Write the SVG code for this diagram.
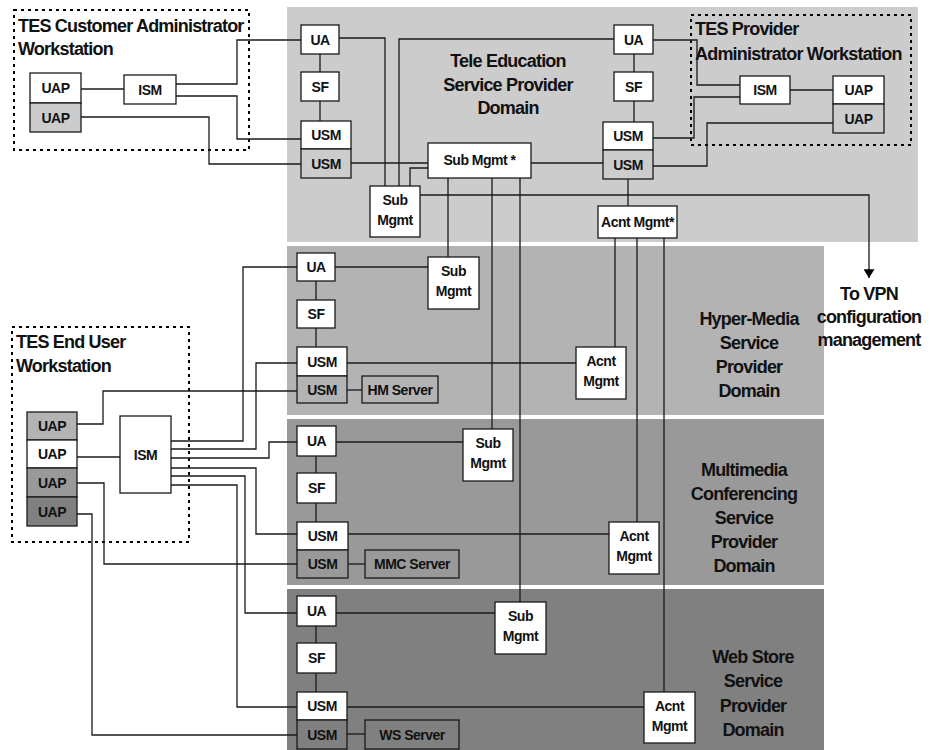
<svg xmlns="http://www.w3.org/2000/svg" width="930" height="750" viewBox="0 0 930 750">
<style>
.bg{fill:#ffffff}
.d1{fill:#cccccc}.d2{fill:#b3b3b3}.d3{fill:#999999}.d4{fill:#808080}
.box{stroke:#1a1a1a;stroke-width:1.3}
.w{fill:#ffffff}
.ws{fill:none;stroke:#000000;stroke-width:2;stroke-dasharray:3 4}
.c path{fill:none;stroke:#1a1a1a;stroke-width:1.3}
text{font-family:"Liberation Sans",Arial,sans-serif;font-weight:bold;fill:#111111}
.l{font-size:14px;letter-spacing:-0.5px;text-anchor:middle}
.t{font-size:18px;letter-spacing:-0.8px}
.m{text-anchor:middle}
</style>
<defs>
<marker id="arr" markerUnits="userSpaceOnUse" markerWidth="9" markerHeight="11" refX="8" refY="5" orient="auto" viewBox="0 0 8 10">
<path d="M0,0 L8,5 L0,10 Z" fill="#000000"/>
</marker>
</defs>
<rect class="bg" x="0" y="0" width="930" height="750"/>
<g id="domains">
<rect class="d1" x="287" y="7" width="631" height="235"/>
<rect class="d2" x="287" y="246" width="537" height="169"/>
<rect class="d3" x="287" y="419" width="537" height="166"/>
<rect class="d4" x="287" y="589" width="537" height="161"/>
<text class="t m" x="508" y="67">Tele Education</text>
<text class="t m" x="508" y="91">Service Provider</text>
<text class="t m" x="508" y="114">Domain</text>
<text class="t m" x="749" y="325">Hyper-Media</text>
<text class="t m" x="749" y="349">Service</text>
<text class="t m" x="749" y="373">Provider</text>
<text class="t m" x="749" y="397">Domain</text>
<text class="t m" x="744" y="476">Multimedia</text>
<text class="t m" x="744" y="500">Conferencing</text>
<text class="t m" x="744" y="524">Service</text>
<text class="t m" x="744" y="548">Provider</text>
<text class="t m" x="744" y="572">Domain</text>
<text class="t m" x="753" y="663">Web Store</text>
<text class="t m" x="753" y="687">Service</text>
<text class="t m" x="753" y="712">Provider</text>
<text class="t m" x="753" y="736">Domain</text>
</g>
<g id="workstations">
<rect class="ws" x="14" y="10" width="235" height="140"/>
<text class="t" x="18" y="32">TES Customer Administrator</text>
<text class="t" x="18" y="55">Workstation</text>
<rect class="ws" x="691" y="15" width="220" height="130"/>
<text class="t" x="695" y="35">TES Provider</text>
<text class="t" x="695" y="60">Administrator Workstation</text>
<rect class="ws" x="12" y="327" width="177" height="215"/>
<text class="t" x="16" y="348">TES End User</text>
<text class="t" x="16" y="372">Workstation</text>
</g>
<g id="vpn-label">
<text class="t m" x="869" y="300">To VPN</text>
<text class="t m" x="869" y="323">configuration</text>
<text class="t m" x="869" y="346">management</text>
</g>
<g id="connectors" class="c">
<path d="M81,89 H124"/>
<path d="M176,84 H237 V40 H301"/>
<path d="M176,96 H237 V139 H301"/>
<path d="M81,117 H209 V164 H301"/>
<path d="M320,54 V72 M320,101 V121"/>
<path d="M339,38 H385 V186"/>
<path d="M399,186 V39 H614"/>
<path d="M410,186 V168 H428"/>
<path d="M351,163 H428"/>
<path d="M531,163 H603"/>
<path d="M420,195 H869 V278" marker-end="url(#arr)"/>
<path d="M448,178 V257"/>
<path d="M492,178 V429"/>
<path d="M520,178 V602"/>
<path d="M634,54 V72 M634,101 V122"/>
<path d="M628,179 V206"/>
<path d="M615,238 V347"/>
<path d="M637,238 V522"/>
<path d="M664,238 V692"/>
<path d="M653,138 H694 V97 H740"/>
<path d="M653,40 H697 V85 H740"/>
<path d="M790,90 H833"/>
<path d="M833,123 H707 V166 H653"/>
<path d="M316,281 V300 M316,328 V347"/>
<path d="M335,267 H428"/>
<path d="M347,363 H576"/>
<path d="M347,390 H362"/>
<path d="M316,456 V473 M316,503 V522"/>
<path d="M336,442 H463"/>
<path d="M348,534 H609"/>
<path d="M348,564 H365"/>
<path d="M316,626 V643 M316,673 V692"/>
<path d="M336,613 H495"/>
<path d="M347,707 H644"/>
<path d="M347,734 H365"/>
<path d="M77,424 H103 V391 H297"/>
<path d="M77,457 H120"/>
<path d="M77,483 H104 V564 H297"/>
<path d="M77,514 H92 V735 H297"/>
<path d="M171,441 H243 V267 H297"/>
<path d="M171,449 H256 V363 H297"/>
<path d="M171,458 H269 V442 H297"/>
<path d="M171,468 H256 V534 H297"/>
<path d="M171,476 H245 V613 H297"/>
<path d="M171,485 H237 V707 H297"/>
</g>
<g id="cust-uap1"><rect class="box w" x="30" y="73" width="51" height="30"/><text class="l" x="55.5" y="93">UAP</text></g>
<g id="cust-uap2"><rect class="box d1" x="30" y="103" width="51" height="29"/><text class="l" x="55.5" y="122.5">UAP</text></g>
<g id="cust-ism"><rect class="box w" x="124" y="75" width="52" height="29"/><text class="l" x="150" y="94.5">ISM</text></g>
<g id="tes-ua-l"><rect class="box w" x="301" y="25" width="38" height="29"/><text class="l" x="320" y="44.5">UA</text></g>
<g id="tes-sf-l"><rect class="box w" x="301" y="72" width="38" height="29"/><text class="l" x="320" y="91.5">SF</text></g>
<g id="tes-usm-l1"><rect class="box w" x="301" y="121" width="50" height="28"/><text class="l" x="326" y="140">USM</text></g>
<g id="tes-usm-l2"><rect class="box d1" x="301" y="149" width="50" height="29"/><text class="l" x="326" y="168.5">USM</text></g>
<g id="tes-submgmt"><rect class="box w" x="370" y="186" width="50" height="51"/><text class="l" x="395" y="204.5">Sub</text><text class="l" x="395" y="224.5">Mgmt</text></g>
<g id="tes-submgmt-star"><rect class="box w" x="428" y="143" width="103" height="35"/><text class="l" x="479.5" y="165">Sub Mgmt *</text></g>
<g id="tes-ua-r"><rect class="box w" x="614" y="25" width="39" height="29"/><text class="l" x="633.5" y="44.5">UA</text></g>
<g id="tes-sf-r"><rect class="box w" x="614" y="72" width="39" height="29"/><text class="l" x="633.5" y="91.5">SF</text></g>
<g id="tes-usm-r1"><rect class="box w" x="603" y="122" width="50" height="28"/><text class="l" x="628" y="141">USM</text></g>
<g id="tes-usm-r2"><rect class="box d1" x="603" y="150" width="50" height="29"/><text class="l" x="628" y="169.5">USM</text></g>
<g id="tes-acnt-star"><rect class="box w" x="598" y="206" width="79" height="32"/><text class="l" x="637.5" y="227">Acnt Mgmt*</text></g>
<g id="prov-ism"><rect class="box w" x="740" y="76" width="50" height="28"/><text class="l" x="765" y="95">ISM</text></g>
<g id="prov-uap1"><rect class="box w" x="833" y="76" width="51" height="28"/><text class="l" x="858.5" y="95">UAP</text></g>
<g id="prov-uap2"><rect class="box d1" x="833" y="104" width="51" height="29"/><text class="l" x="858.5" y="123.5">UAP</text></g>
<g id="hm-ua"><rect class="box w" x="297" y="253" width="38" height="28"/><text class="l" x="316" y="272">UA</text></g>
<g id="hm-sf"><rect class="box w" x="297" y="300" width="38" height="28"/><text class="l" x="316" y="319">SF</text></g>
<g id="hm-usm1"><rect class="box w" x="297" y="347" width="50" height="29"/><text class="l" x="322" y="366.5">USM</text></g>
<g id="hm-usm2"><rect class="box d2" x="297" y="376" width="50" height="27"/><text class="l" x="322" y="394.5">USM</text></g>
<g id="hm-server"><rect class="box d2" x="362" y="376" width="76" height="27"/><text class="l" x="400" y="394.5">HM Server</text></g>
<g id="hm-submgmt"><rect class="box w" x="428" y="257" width="51" height="52"/><text class="l" x="453.5" y="276">Sub</text><text class="l" x="453.5" y="296">Mgmt</text></g>
<g id="hm-acnt"><rect class="box w" x="576" y="347" width="50" height="52"/><text class="l" x="601" y="366">Acnt</text><text class="l" x="601" y="386">Mgmt</text></g>
<g id="mmc-ua"><rect class="box w" x="297" y="426" width="39" height="30"/><text class="l" x="316.5" y="446">UA</text></g>
<g id="mmc-sf"><rect class="box w" x="297" y="473" width="39" height="30"/><text class="l" x="316.5" y="493">SF</text></g>
<g id="mmc-usm1"><rect class="box w" x="297" y="522" width="51" height="28"/><text class="l" x="322.5" y="541">USM</text></g>
<g id="mmc-usm2"><rect class="box d3" x="297" y="550" width="51" height="28"/><text class="l" x="322.5" y="569">USM</text></g>
<g id="mmc-server"><rect class="box d3" x="365" y="550" width="94" height="28"/><text class="l" x="412" y="569">MMC Server</text></g>
<g id="mmc-submgmt"><rect class="box w" x="463" y="429" width="50" height="52"/><text class="l" x="488" y="448">Sub</text><text class="l" x="488" y="468">Mgmt</text></g>
<g id="mmc-acnt"><rect class="box w" x="609" y="522" width="50" height="52"/><text class="l" x="634" y="541">Acnt</text><text class="l" x="634" y="561">Mgmt</text></g>
<g id="ws-ua"><rect class="box w" x="297" y="596" width="39" height="30"/><text class="l" x="316.5" y="616">UA</text></g>
<g id="ws-sf"><rect class="box w" x="297" y="643" width="39" height="30"/><text class="l" x="316.5" y="663">SF</text></g>
<g id="ws-usm1"><rect class="box w" x="297" y="692" width="50" height="28"/><text class="l" x="322" y="711">USM</text></g>
<g id="ws-usm2"><rect class="box d4" x="297" y="720" width="50" height="29"/><text class="l" x="322" y="739.5">USM</text></g>
<g id="ws-server"><rect class="box d4" x="365" y="720" width="94" height="29"/><text class="l" x="412" y="739.5">WS Server</text></g>
<g id="ws-submgmt"><rect class="box w" x="495" y="602" width="51" height="52"/><text class="l" x="520.5" y="621">Sub</text><text class="l" x="520.5" y="641">Mgmt</text></g>
<g id="ws-acnt"><rect class="box w" x="644" y="692" width="51" height="51"/><text class="l" x="669.5" y="710.5">Acnt</text><text class="l" x="669.5" y="730.5">Mgmt</text></g>
<g id="eu-uap1"><rect class="box d2" x="27" y="412" width="50" height="28"/><text class="l" x="52" y="431">UAP</text></g>
<g id="eu-uap2"><rect class="box w" x="27" y="440" width="50" height="28"/><text class="l" x="52" y="459">UAP</text></g>
<g id="eu-uap3"><rect class="box d3" x="27" y="468" width="50" height="29"/><text class="l" x="52" y="487.5">UAP</text></g>
<g id="eu-uap4"><rect class="box d4" x="27" y="497" width="50" height="29"/><text class="l" x="52" y="516.5">UAP</text></g>
<g id="eu-ism"><rect class="box w" x="120" y="416" width="51" height="77"/><text class="l" x="145.5" y="459.5">ISM</text></g>
</svg>
